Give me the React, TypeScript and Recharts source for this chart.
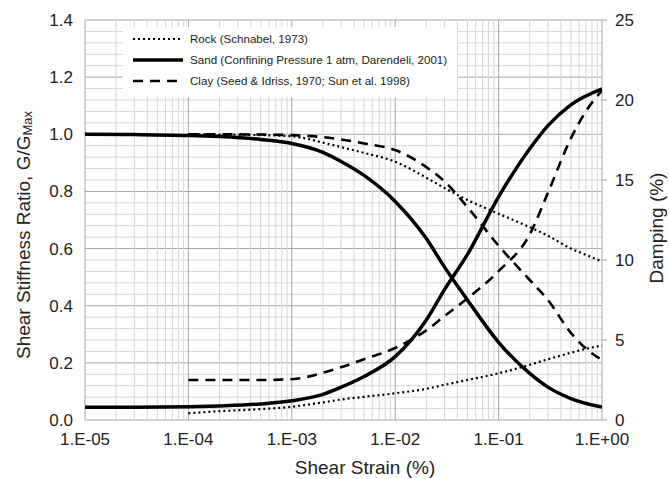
import { LineChart, Line, XAxis, YAxis, ReferenceLine, Legend } from "recharts";

// shear strain (%) – sand curve spans the whole range, rock/clay start at 1E-04
const strainSand = [1e-5, 3e-5, 1e-4, 2e-4, 5e-4, 1e-3, 2e-3, 3e-3, 5e-3, 1e-2, 2e-2, 3e-2, 5e-2, 0.1, 0.2, 0.3, 0.5, 1];
const strainRockClay = [1e-4, 2e-4, 5e-4, 1e-3, 2e-3, 3e-3, 5e-3, 1e-2, 2e-2, 3e-2, 5e-2, 0.1, 0.2, 0.3, 0.5, 0.7, 1];

// G/Gmax (left axis)
const sandG = [1.0, 0.999, 0.996, 0.992, 0.982, 0.968, 0.937, 0.905, 0.856, 0.765, 0.635, 0.535, 0.42, 0.272, 0.163, 0.115, 0.075, 0.045];
const rockG = [1.0, 0.999, 0.997, 0.993, 0.971, 0.955, 0.935, 0.904, 0.848, 0.812, 0.77, 0.722, 0.675, 0.645, 0.6, 0.578, 0.555];
const clayG = [1.0, 1.0, 0.999, 0.997, 0.99, 0.982, 0.968, 0.945, 0.885, 0.835, 0.745, 0.61, 0.49, 0.42, 0.305, 0.25, 0.21];

// damping % (right axis)
const sandD = [0.8, 0.8, 0.83, 0.88, 1.0, 1.2, 1.6, 2.05, 2.72, 3.96, 6.25, 8.15, 10.35, 13.95, 16.95, 18.4, 19.7, 20.7];
const rockD = [0.42, 0.55, 0.68, 0.83, 1.1, 1.28, 1.45, 1.67, 1.95, 2.2, 2.5, 2.92, 3.45, 3.8, 4.2, 4.45, 4.65];
const clayD = [2.5, 2.5, 2.5, 2.55, 2.95, 3.3, 3.8, 4.5, 5.6, 6.5, 7.6, 9.3, 11.6, 14.2, 17.6, 19.3, 20.6];

const xTicks = [1e-5, 1e-4, 1e-3, 1e-2, 1e-1, 1];
const gTicks = [0, 0.2, 0.4, 0.6, 0.8, 1.0, 1.2, 1.4];
const dTicks = [0, 5, 10, 15, 20, 25];

const legendItems = [
  { label: "Rock (Schnabel, 1973)", dash: "2 3", width: 2.2 },
  { label: "Sand (Confining Pressure 1 atm, Darendeli, 2001)", dash: undefined, width: 3.5 },
  { label: "Clay (Seed & Idriss, 1970; Sun et al. 1998)", dash: "10 7", width: 2.6 },
];

const FONT = "Arial, 'Liberation Sans', sans-serif";
const INK = "#222";

const toRows = (xs: number[], ys: number[]) => xs.map((x, i) => ({ x, y: ys[i] }));

// grid: minor every 2..9 per decade, major on decades
const vMinor: number[] = [];
for (let d = -5; d < 0; d++) for (let k = 2; k <= 9; k++) vMinor.push(k * Math.pow(10, d));
const hMinor: number[] = [];
for (let i = 0; i <= 35; i++) hMinor.push(Math.round(i * 0.04 * 100) / 100);

const fmtStrain = (v: number) => {
  const e = Math.round(Math.log10(v));
  return `1.E${e < 0 ? "-" : "+"}${String(Math.abs(e)).padStart(2, "0")}`;
};

function LegendBox() {
  return (
    <div style={{ background: "#fff", width: 334, height: 70, paddingTop: 1, boxSizing: "border-box", fontFamily: FONT, fontSize: 11.6, color: INK, textAlign: "left" }}>
      {legendItems.map((it) => (
        <div key={it.label} style={{ display: "flex", alignItems: "center", height: 21 }}>
          <svg width={67} height={10} style={{ flex: "none" }}>
            <line x1={10} x2={60} y1={5} y2={5} stroke="#000" strokeWidth={it.width} strokeDasharray={it.dash} />
          </svg>
          <span style={{ whiteSpace: "nowrap" }}>{it.label}</span>
        </div>
      ))}
    </div>
  );
}

function LeftTitle() {
  const cx = 23;
  const cy = 235;
  return (
    <text x={cx} y={cy} transform={`rotate(-90, ${cx}, ${cy})`} textAnchor="middle" dominantBaseline="central" fontFamily={FONT} fontSize={19} fill={INK}>
      Shear Stiffness Ratio, G/G<tspan fontSize={13} dy={4}>Max</tspan>
    </text>
  );
}

function RightTitle() {
  const cx = 656;
  const cy = 228;
  return (
    <text x={cx} y={cy} transform={`rotate(-90, ${cx}, ${cy})`} textAnchor="middle" dominantBaseline="central" fontFamily={FONT} fontSize={19} fill={INK}>
      Damping (%)
    </text>
  );
}

function BottomTitle() {
  return (
    <text x={365} y={467} textAnchor="middle" dominantBaseline="central" fontFamily={FONT} fontSize={19} fill={INK}>
      Shear Strain (%)
    </text>
  );
}

export default function App() {
  return (
    <div style={{ position: "absolute", left: 0, top: 0, background: "#fff" }}>
      <LineChart width={669} height={479} margin={{ top: 20, right: 0, bottom: 0, left: 0 }}>
        <XAxis
          dataKey="x"
          type="number"
          scale="log"
          domain={[1e-5, 1]}
          ticks={xTicks}
          tickFormatter={fmtStrain}
          allowDataOverflow
          axisLine={false}
          tickLine={false}
          height={59}
          tickMargin={7}
          tick={{ fontFamily: FONT, fontSize: 17, fill: INK }}
          label={<BottomTitle />}
        />
        <YAxis
          yAxisId="left"
          type="number"
          domain={[0, 1.4]}
          ticks={gTicks}
          tickFormatter={(v: number) => v.toFixed(1)}
          width={85}
          axisLine={false}
          tickLine={false}
          tickMargin={6}
          tick={{ fontFamily: FONT, fontSize: 17, fill: INK }}
          label={<LeftTitle />}
        />
        <YAxis
          yAxisId="right"
          orientation="right"
          type="number"
          domain={[0, 25]}
          ticks={dTicks}
          width={67}
          axisLine={false}
          tickLine={{ stroke: "#a0a0a0" }}
          tickSize={5}
          tickMargin={8}
          tick={{ fontFamily: FONT, fontSize: 17, fill: INK }}
          label={<RightTitle />}
        />

        {hMinor.map((v) => (
          <ReferenceLine key={"h" + v} yAxisId="left" y={v} stroke={Math.abs(v * 5 - Math.round(v * 5)) < 1e-6 ? "#a6a6a6" : "#d6d6d6"} strokeWidth={1} />
        ))}
        {vMinor.map((v) => (
          <ReferenceLine key={"v" + v} yAxisId="left" x={v} stroke="#d6d6d6" strokeWidth={1} />
        ))}
        {xTicks.map((v) => (
          <ReferenceLine key={"vm" + v} yAxisId="left" x={v} stroke="#a6a6a6" strokeWidth={1} />
        ))}

        <Legend
          layout="horizontal"
          verticalAlign="middle"
          align="center"
          content={() => <LegendBox />}
          wrapperStyle={{ left: 123, top: 27, width: 334, height: 70 }}
        />

        <Line yAxisId="left" data={toRows(strainRockClay, rockG)} dataKey="y" type="monotone" stroke="#000" strokeWidth={2.2} strokeDasharray="2 3" dot={false} isAnimationActive={false} legendType="none" />
        <Line yAxisId="right" data={toRows(strainRockClay, rockD)} dataKey="y" type="monotone" stroke="#000" strokeWidth={2.2} strokeDasharray="2 3" dot={false} isAnimationActive={false} legendType="none" />
        <Line yAxisId="left" data={toRows(strainSand, sandG)} dataKey="y" type="monotone" stroke="#000" strokeWidth={3.5} dot={false} isAnimationActive={false} legendType="none" />
        <Line yAxisId="right" data={toRows(strainSand, sandD)} dataKey="y" type="monotone" stroke="#000" strokeWidth={3.5} dot={false} isAnimationActive={false} legendType="none" />
        <Line yAxisId="left" data={toRows(strainRockClay, clayG)} dataKey="y" type="monotone" stroke="#000" strokeWidth={2.6} strokeDasharray="10 7" dot={false} isAnimationActive={false} legendType="none" />
        <Line yAxisId="right" data={toRows(strainRockClay, clayD)} dataKey="y" type="monotone" stroke="#000" strokeWidth={2.6} strokeDasharray="10 7" dot={false} isAnimationActive={false} legendType="none" />
      </LineChart>
    </div>
  );
}
